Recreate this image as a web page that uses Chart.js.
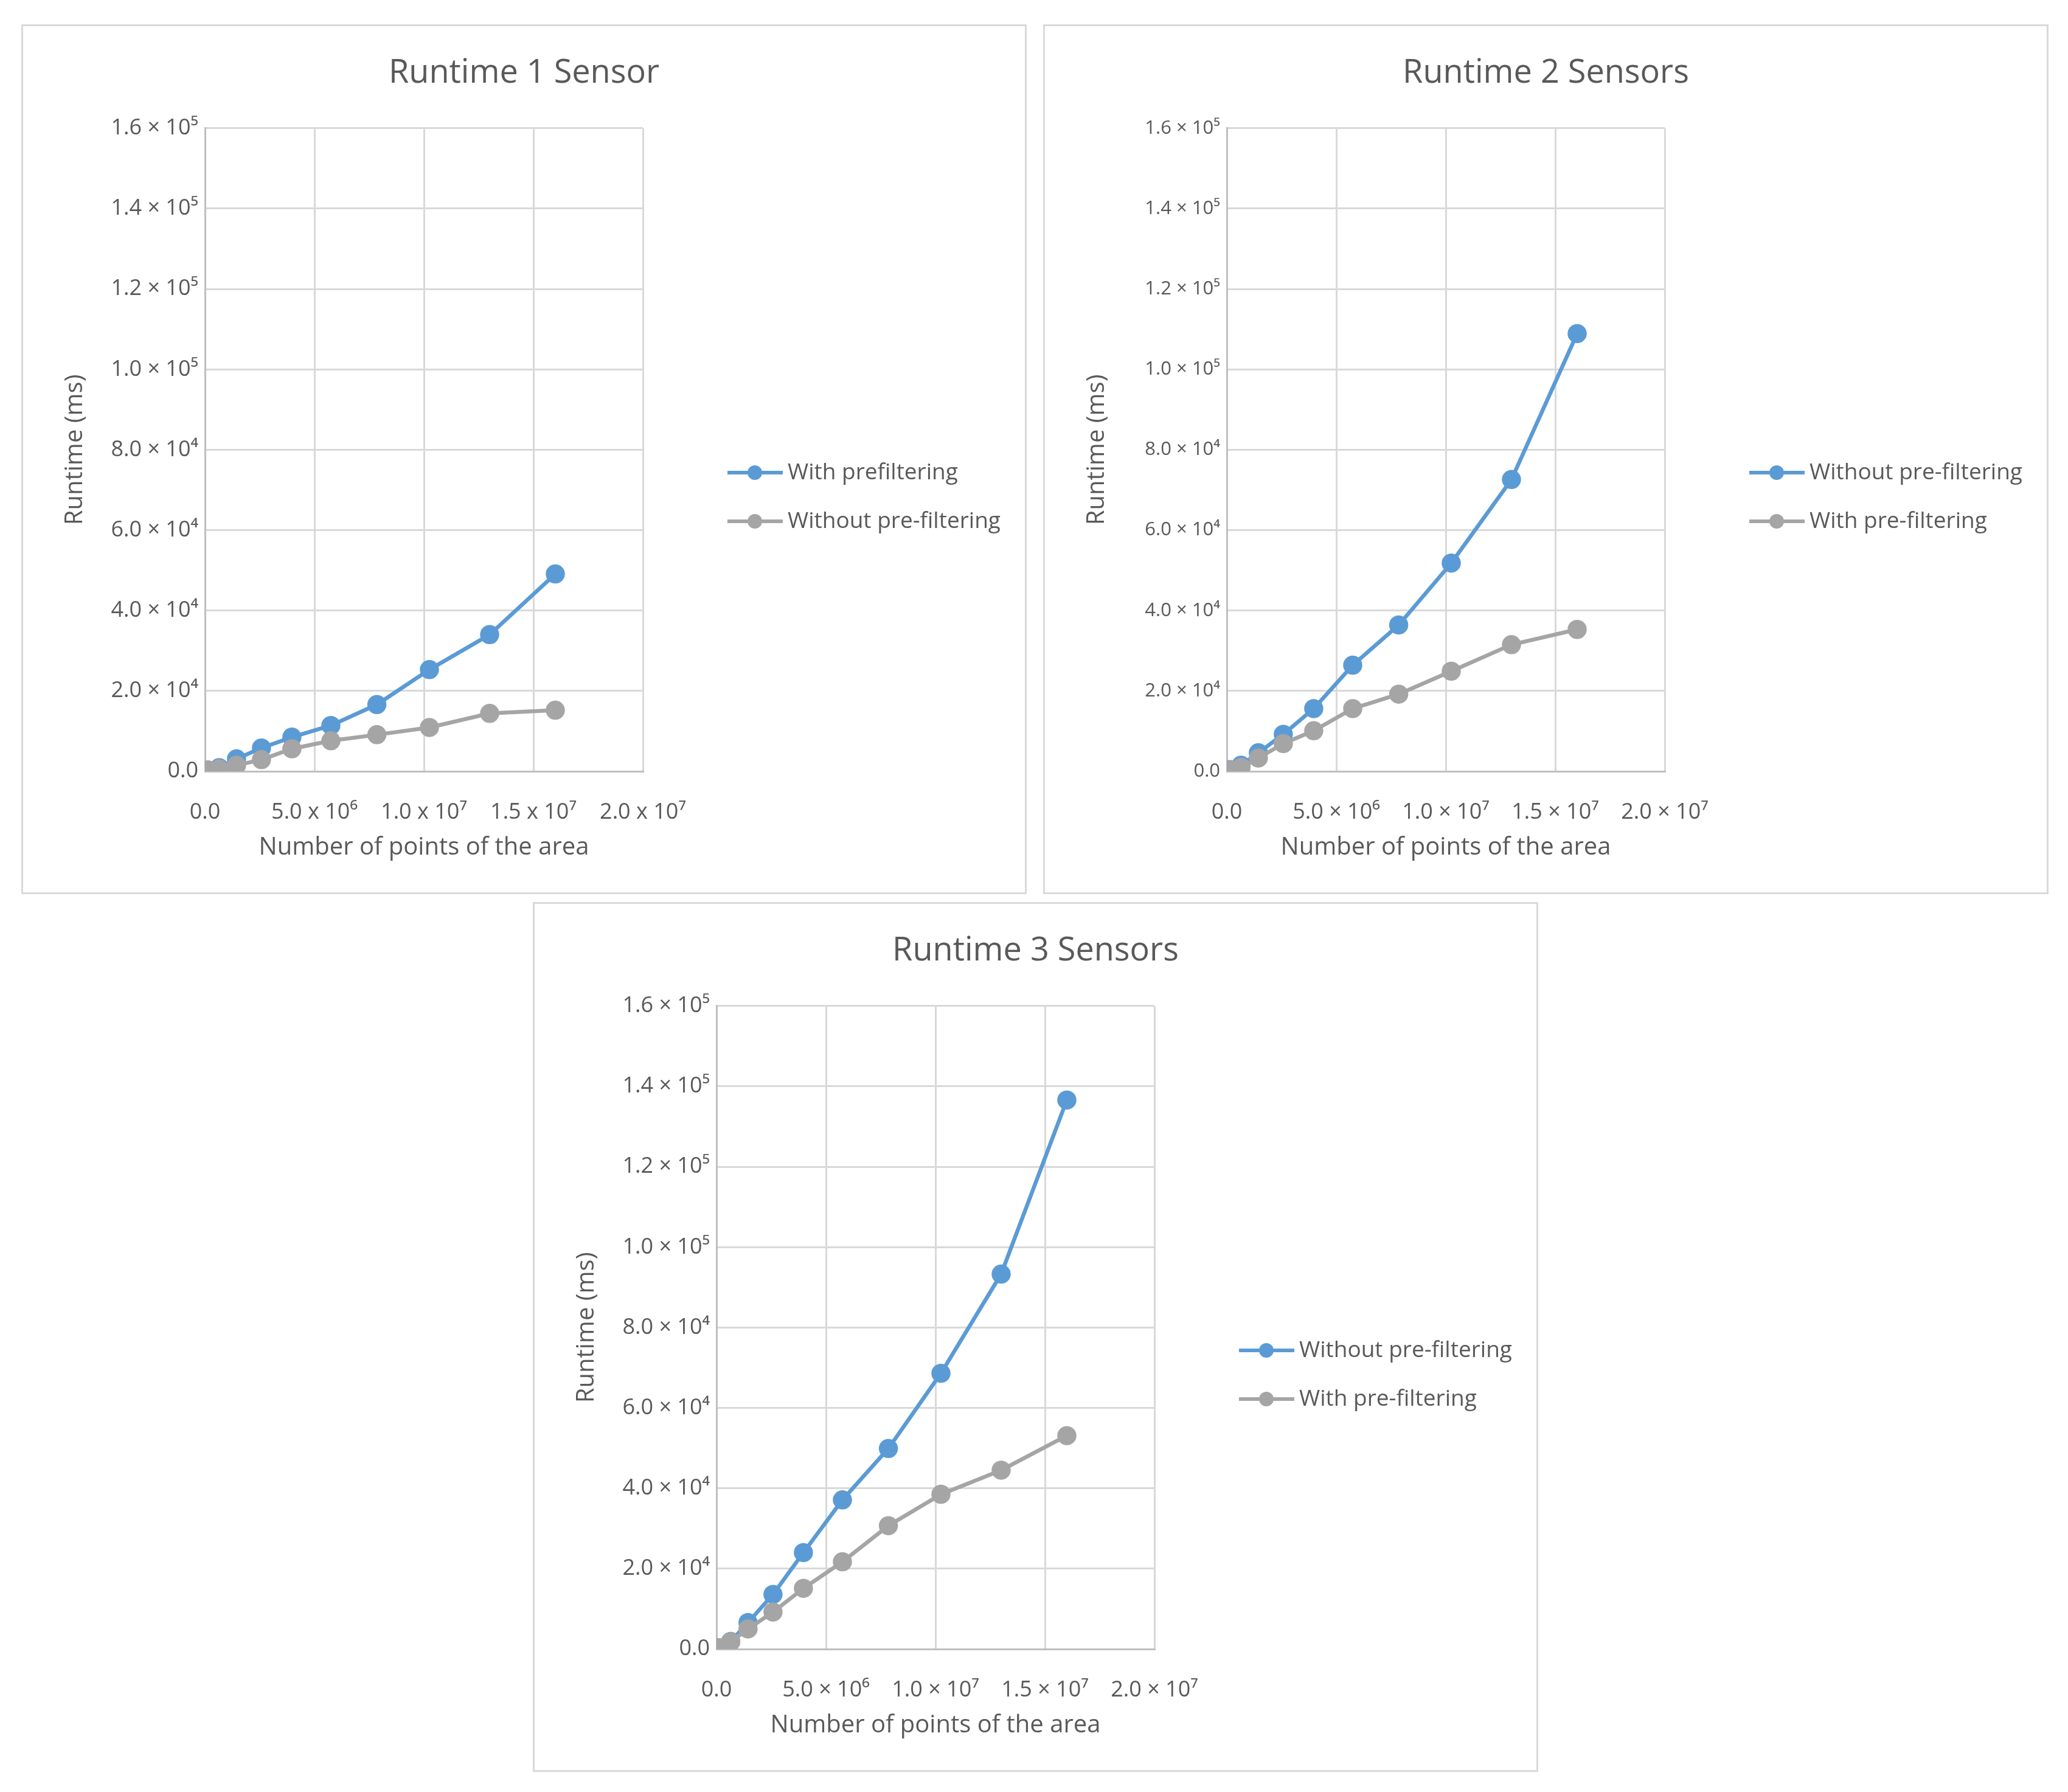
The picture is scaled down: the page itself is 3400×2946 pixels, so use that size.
<!DOCTYPE html>
<html>
<head>
<meta charset="utf-8">
<script src="https://cdn.jsdelivr.net/npm/chart.js@4.4.1/dist/chart.umd.min.js"></script>
<style>
  body { margin: 0; background: #fff; }
  #page { position: relative; width: 3400px; height: 2946px; background: #fff; }
  .panel { position: absolute; width: 1653px; height: 1430px; box-sizing: border-box; border: 3px solid #d9d9d9; }
  .panel canvas { position: absolute; left: -3px; top: -3px; }
</style>
</head>
<body>
<div id="page">
  <div class="panel" style="left:35px;top:40px"><canvas id="chart1" width="1653" height="1430"></canvas></div>
  <div class="panel" style="left:1715px;top:40px"><canvas id="chart2" width="1653" height="1430"></canvas></div>
  <div class="panel" style="left:876px;top:1483px"><canvas id="chart3" width="1653" height="1430"></canvas></div>
</div>
<script>
// number of points of the area (same for all three charts)
const pointsX = [130000, 650000, 1440000, 2580000, 3970000, 5750000, 7850000, 10250000, 13000000, 16000000];

// runtime in ms
const sensor1Blue = [300, 900, 3100, 5800, 8500, 11400, 16600, 25300, 34000, 49100];
const sensor1Gray = [350, 600, 1500, 2900, 5600, 7600, 9100, 10900, 14400, 15200];

const sensor2Blue = [400, 1500, 4600, 9200, 15600, 26400, 36400, 51800, 72600, 108900];
const sensor2Gray = [300, 1000, 3300, 6900, 10100, 15600, 19200, 24900, 31500, 35300];

const sensor3Blue = [300, 1900, 6600, 13600, 24000, 37100, 49900, 68600, 93300, 136600];
const sensor3Gray = [300, 1800, 5000, 9200, 15100, 21700, 30700, 38500, 44500, 53100];

const yTickLabels = ['0.0', '2.0 × 10⁴', '4.0 × 10⁴', '6.0 × 10⁴', '8.0 × 10⁴', '1.0 × 10⁵', '1.2 × 10⁵', '1.4 × 10⁵', '1.6 × 10⁵'];
const xTickLabels = ['0.0', '5.0 × 10⁶', '1.0 × 10⁷', '1.5 × 10⁷', '2.0 × 10⁷'];
const xTickLabels1 = ['0.0', '5.0 x 10⁶', '1.0 x 10⁷', '1.5 x 10⁷', '2.0 x 10⁷'];

const BLUE = '#5b9bd5';
const GRAY = '#a5a5a5';
const TEXT = '#595959';

Chart.defaults.font.family = "'Open Sans', 'Noto Sans', sans-serif";
Chart.defaults.color = TEXT;

// legend drawn as line + marker like the original
const lineLegend = {
    id: 'lineLegend',
    afterDraw(chart) {
        const ctx = chart.ctx;
        const rows = [737, 817];
        ctx.save();
        chart.data.datasets.forEach((ds, i) => {
            const y = rows[i];
            ctx.strokeStyle = ds.borderColor;
            ctx.lineWidth = 6;
            ctx.beginPath();
            ctx.moveTo(1161, y);
            ctx.lineTo(1252, y);
            ctx.stroke();
            ctx.fillStyle = ds.borderColor;
            ctx.beginPath();
            ctx.arc(1206, y, 12, 0, Math.PI * 2);
            ctx.fill();
            ctx.font = "37px 'Open Sans', 'Noto Sans', sans-serif";
            ctx.fillStyle = TEXT;
            ctx.textBaseline = 'middle';
            ctx.fillText(ds.label, 1260, y);
        });
        ctx.restore();
    }
};

function toPoints(values) {
    return values.map((v, i) => ({ x: pointsX[i], y: v }));
}

const gridColor = c => (c.tick && c.tick.value === 0) ? 'rgba(0,0,0,0)' : '#d9d9d9';

function makeChart(id, title, blueLabel, blueData, grayLabel, grayData, xLabels, yFont) {
    const ctx = document.getElementById(id).getContext('2d');
    return new Chart(ctx, {
        type: 'line',
        data: {
            datasets: [{
                label: blueLabel,
                data: toPoints(blueData),
                borderColor: BLUE,
                backgroundColor: BLUE,
                pointBackgroundColor: BLUE,
                pointBorderColor: BLUE,
                borderWidth: 6.5,
                pointRadius: 12.5,
                tension: 0,
                yAxisID: 'y',
                order: 1
            }, {
                label: grayLabel,
                data: toPoints(grayData),
                borderColor: GRAY,
                backgroundColor: GRAY,
                pointBackgroundColor: GRAY,
                pointBorderColor: GRAY,
                borderWidth: 6.5,
                pointRadius: 12.5,
                tension: 0,
                yAxisID: 'y',
                order: 0
            }]
        },
        options: {
            responsive: false,
            animation: false,
            events: [],
            layout: { padding: 0 },
            plugins: {
                legend: { display: false },
                tooltip: { enabled: false },
                title: {
                    display: true,
                    text: title,
                    color: TEXT,
                    font: { size: 54, weight: 'normal' },
                    padding: { top: 48, bottom: 58 }
                }
            },
            scales: {
                x: {
                    type: 'linear',
                    min: 0,
                    max: 20000000,
                    afterFit: s => { s.height = 202; },
                    ticks: {
                        stepSize: 5000000,
                        autoSkip: false,
                        maxRotation: 0,
                        padding: 46,
                        font: { size: 36 },
                        color: TEXT,
                        callback: (v, i) => xLabels[i]
                    },
                    grid: { drawTicks: false, lineWidth: 3, color: gridColor },
                    border: { display: true, color: '#bfbfbf', width: 3 },
                    title: {
                        display: true,
                        text: 'Number of points of the area',
                        color: TEXT,
                        font: { size: 40 },
                        padding: { top: 0, bottom: 52 }
                    }
                },
                y: {
                    position: 'left',
                    min: 0,
                    max: 160000,
                    afterFit: s => { s.width = 302; },
                    ticks: {
                        stepSize: 20000,
                        autoSkip: false,
                        padding: 11,
                        font: { size: yFont },
                        color: TEXT,
                        callback: (v, i) => yTickLabels[i]
                    },
                    grid: { drawTicks: false, lineWidth: 3, color: gridColor },
                    border: { display: true, color: '#bfbfbf', width: 3 },
                    title: {
                        display: true,
                        text: 'Runtime (ms)',
                        color: TEXT,
                        font: { size: 40 },
                        padding: { top: 65, bottom: 0 }
                    }
                },
                // empty axis that keeps room on the right for the legend
                legendSpace: {
                    axis: 'y',
                    position: 'right',
                    afterFit: s => { s.width = 631; },
                    ticks: { display: false },
                    grid: { display: false },
                    border: { display: false }
                }
            }
        },
        plugins: [lineLegend]
    });
}

makeChart('chart1', 'Runtime 1 Sensor', 'With prefiltering', sensor1Blue, 'Without pre-filtering', sensor1Gray, xTickLabels1, 36);
makeChart('chart2', 'Runtime 2 Sensors', 'Without pre-filtering', sensor2Blue, 'With pre-filtering', sensor2Gray, xTickLabels, 31);
makeChart('chart3', 'Runtime 3 Sensors', 'Without pre-filtering', sensor3Blue, 'With pre-filtering', sensor3Gray, xTickLabels, 36);
</script>
</body>
</html>
